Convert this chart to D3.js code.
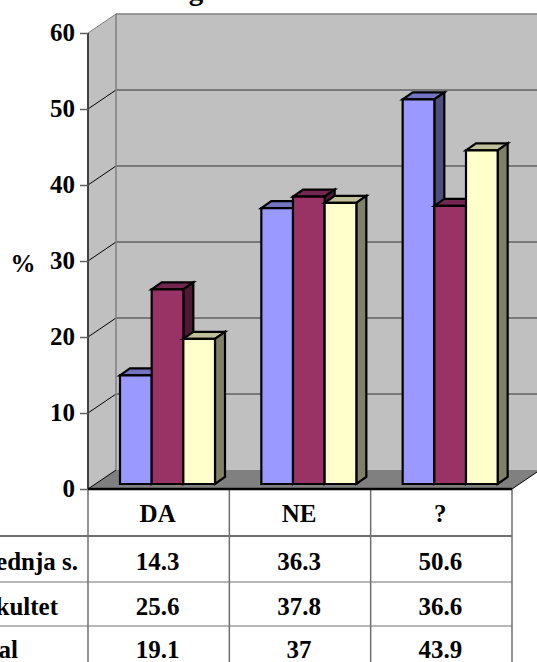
<!DOCTYPE html>
<html lang="en">
<head>
<meta charset="UTF-8">
<title>Chart</title>
<script src="https://d3js.org/d3.v7.min.js"></script>
<style>
    html, body { margin: 0; padding: 0; background: #fff; overflow: hidden; }
    svg { display: block; }
    text { font-family: "Liberation Serif", serif; font-weight: bold; font-size: 25px; fill: #000; }
</style>
</head>
<body>
<svg id="chart" width="537" height="662"></svg>
<script>
const categories = ["DA", "NE", "?"];
const seriesNames = ["Srednja s.", "Fakultet", "Total"];
const srednja = [14.3, 36.3, 50.6];
const fakultet = [25.6, 37.8, 36.6];
const total = [19.1, 37, 43.9];
const yTicks = [0, 10, 20, 30, 40, 50, 60];
const rowLabelEnds = [78, 58, 18];
const rowBaselines = [570, 615, 658];

const seriesValues = [srednja, fakultet, total];
const faces = [
    {front: "#9999ff", top: "#7373bf", side: "#4d4d80"},
    {front: "#993366", top: "#732650", side: "#4d1933"},
    {front: "#ffffcc", top: "#bfbf99", side: "#808066"}
];

const svg = d3.select("#chart");

const left = 88, right = 512, wallDx = 28, wallDy = 19;
const y = d3.scaleLinear().domain([0, 60]).range([489, 33]);
const x = d3.scaleBand().domain(categories).range([left, right]);
const inner = d3.scaleBand().domain(d3.range(3)).range([0, 95]);

const poly = (pts, fill, stroke, sw) => svg.append("polygon")
    .attr("points", pts.map(p => p.join(",")).join(" "))
    .attr("fill", fill)
    .attr("stroke", stroke || "none")
    .attr("stroke-width", sw || 0);

// walls and floor
poly([[left + wallDx, y(60) - wallDy], [right + wallDx, y(60) - wallDy], [right + wallDx, y(0) - wallDy], [left + wallDx, y(0) - wallDy]], "#c0c0c0");
poly([[left, y(60)], [left + wallDx, y(60) - wallDy], [left + wallDx, y(0) - wallDy], [left, y(0)]], "#c0c0c0");
poly([[left, y(0)], [left + wallDx, y(0) - wallDy], [right + wallDx, y(0) - wallDy], [right, y(0)]], "#808080");

// gridlines on the back wall and their diagonals on the side wall
yTicks.forEach(t => {
    if (t > 0) {
        svg.append("line").attr("x1", left + wallDx).attr("x2", right + wallDx)
            .attr("y1", y(t) - wallDy).attr("y2", y(t) - wallDy)
            .attr("stroke", t === 60 ? "#808080" : "#606060").attr("stroke-width", 1.5);
    }
    svg.append("line").attr("x1", left).attr("x2", left + wallDx)
        .attr("y1", y(t)).attr("y2", y(t) - wallDy)
        .attr("stroke", t === 60 ? "#808080" : "#000").attr("stroke-width", 1);
});
svg.append("line").attr("x1", left + wallDx).attr("x2", left + wallDx)
    .attr("y1", y(60) - wallDy).attr("y2", y(0) - wallDy)
    .attr("stroke", "#808080").attr("stroke-width", 1.5);
svg.append("line").attr("x1", right).attr("x2", right + wallDx)
    .attr("y1", y(0)).attr("y2", y(0) - wallDy)
    .attr("stroke", "#000").attr("stroke-width", 1);

// bars
const barDx = 10, barDy = 7, shiftX = 7, shiftY = 5;
const groupPad = 25;
categories.forEach((cat, c) => {
    seriesValues.forEach((vals, s) => {
        const x0 = x(cat) + groupPad + shiftX + inner(s);
        const x1 = x0 + inner.bandwidth();
        const yTop = y(vals[c]) - shiftY;
        const yBase = y(0) - shiftY;
        const g = faces[s];
        poly([[x0, yTop], [x0 + barDx, yTop - barDy], [x1 + barDx, yTop - barDy], [x1, yTop]], g.top, "#000", 2.2);
        poly([[x1, yTop], [x1 + barDx, yTop - barDy], [x1 + barDx, yBase - barDy], [x1, yBase]], g.side, "#000", 2.2);
        poly([[x0, yTop], [x1, yTop], [x1, yBase], [x0, yBase]], g.front, "#000", 2.2);
    });
});

// value axis
const axis = svg.append("g")
    .attr("transform", `translate(${left},0)`)
    .call(d3.axisLeft(y).tickValues(yTicks).tickSize(8).tickPadding(5));
axis.selectAll("text").style("font-family", '"Liberation Serif", serif').style("font-size", "25px").attr("dy", "0.3em");
axis.selectAll(".tick line").attr("stroke", "#606060").attr("stroke-width", 1.5);
axis.select(".domain").attr("stroke", "#404040").attr("stroke-width", 2).attr("d", `M0,${y(60)}V${y(0)}`);

svg.append("text").attr("x", 23).attr("y", 272).attr("text-anchor", "middle").text("%");
// the title is cut off by the top of the picture
svg.append("text").attr("x", 196).attr("y", 0).attr("text-anchor", "middle").style("font-size", "29px").text("g");

// data table
const tableBottom = 662;
const tableLine = (x1, y1, x2, y2, col, sw) => svg.append("line")
    .attr("x1", x1).attr("y1", y1).attr("x2", x2).attr("y2", y2)
    .attr("stroke", col).attr("stroke-width", sw);

[left, x("NE"), x("?"), right].forEach(vx => tableLine(vx, y(0), vx, tableBottom, "#707070", 1.5));
tableLine(0, 536, right, 536, "#707070", 2);
tableLine(0, 582, right, 582, "#707070", 1);
tableLine(0, 626, right, 626, "#707070", 1);
tableLine(left, y(0), right, y(0), "#000", 2.5);

categories.forEach((cat, c) => {
    const cx = x(cat) + x.bandwidth() / 2 - 1;
    svg.append("text").attr("x", cx).attr("y", 522).attr("text-anchor", "middle").text(cat);
    seriesValues.forEach((vals, s) => {
        svg.append("text").attr("x", cx).attr("y", rowBaselines[s]).attr("text-anchor", "middle").text(vals[c]);
    });
});
seriesNames.forEach((name, s) => {
    svg.append("text").attr("x", rowLabelEnds[s]).attr("y", rowBaselines[s])
        .attr("text-anchor", "end").text(name);
});
</script>
</body>
</html>
